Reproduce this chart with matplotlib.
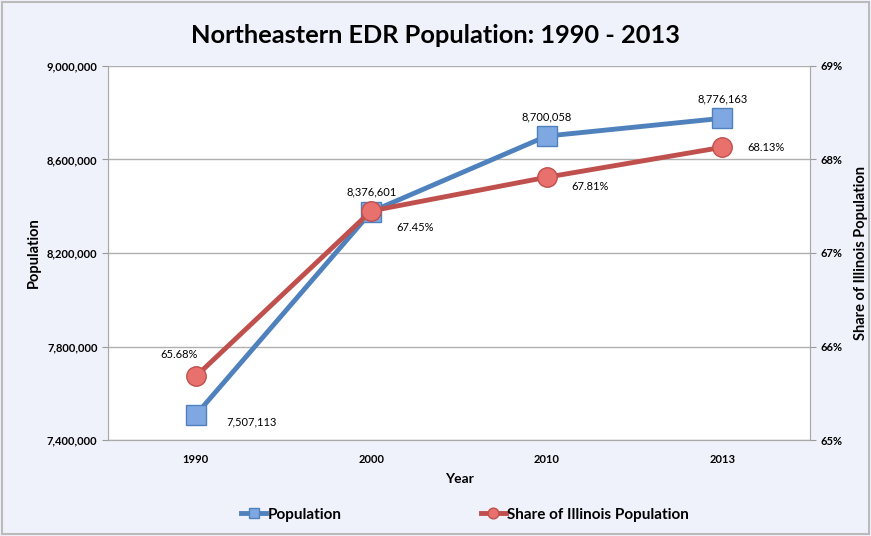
import numpy as np
from matplotlib import pyplot as plt
from matplotlib.ticker import FuncFormatter

years = ['1990', '2000', '2010', '2013']
population = [7507113, 8376601, 8700058, 8776163]
share = [65.68, 67.45, 67.81, 68.13]

pop_labels = ['7,507,113', '8,376,601', '8,700,058', '8,776,163']
share_labels = ['65.68%', '67.45%', '67.81%', '68.13%']

plt.rcParams['font.family'] = ['Lato', 'DejaVu Sans']

bg = '#f0f2fb'
blue = '#4f81bd'
red = '#c0504d'

fig = plt.figure(figsize=(8.71, 5.36), dpi=100, facecolor=bg)
ax = fig.add_axes([0.124, 0.179, 0.806, 0.698])
ax.set_facecolor('white')
ax2 = ax.twinx()

x = np.arange(len(years))
l1, = ax.plot(x, population, color=blue, lw=3.5, marker='s', ms=14,
              mfc='#7fa8e2', mec='#4f81bd', mew=1, label='Population', zorder=3)
l2, = ax2.plot(x, share, color=red, lw=3.5, marker='o', ms=14,
               mfc='#e8716d', mec='#c0504d', mew=1, label='Share of Illinois Population', zorder=3)

ax.set_xlim(-0.5, 3.5)
ax.set_ylim(7400000, 9000000)
ax.set_yticks(np.arange(7400000, 9000001, 400000))
ax.yaxis.set_major_formatter(FuncFormatter(lambda v, p: '{:,.0f}'.format(v)))
ax2.set_ylim(65, 69)
ax2.set_yticks([65, 66, 67, 68, 69])
ax2.yaxis.set_major_formatter(FuncFormatter(lambda v, p: '%d%%' % v))

ax.grid(True, axis='y', color='#b0b0b0', lw=1)
ax.set_axisbelow(True)
ax.set_xticks(x)
ax.set_xticklabels(years, fontsize=8, fontweight='bold')
ax.tick_params(axis='x', length=0, pad=10)
ax.tick_params(axis='y', labelsize=8, length=4, color='#999999', direction='out')
ax2.tick_params(axis='y', labelsize=8, length=4, color='#999999', direction='out')
for t in ax.get_yticklabels() + ax2.get_yticklabels():
    t.set_fontweight('bold')
for a in (ax, ax2):
    for s in a.spines.values():
        s.set_color('#aaaaaa')
    a.spines['top'].set_visible(False)

ax.set_xlabel('Year', fontsize=10, fontweight='bold', labelpad=6)
ax.set_ylabel('Population', fontsize=10.5, fontweight='bold', labelpad=4)
ax2.set_ylabel('Share of Illinois Population', fontsize=10.5, fontweight='bold', labelpad=8)

# data labels
pop_off = [(22, -5, 'left'), (0, 14, 'center'), (0, 14, 'center'), (0, 14, 'center')]
for i in range(len(years)):
    dx, dy, ha = pop_off[i]
    ax.annotate(pop_labels[i], (x[i], population[i]), xytext=(dx, dy),
                textcoords='offset points', ha=ha, va='center', fontsize=8)
share_off = [(-12, 16, 'center'), (18, -12, 'left'), (18, -7, 'left'), (18, 0, 'left')]
for i in range(len(years)):
    dx, dy, ha = share_off[i]
    ax2.annotate(share_labels[i], (x[i], share[i]), xytext=(dx, dy),
                 textcoords='offset points', ha=ha, va='center', fontsize=8)

fig.suptitle('Northeastern EDR Population: 1990 - 2013', fontsize=18.3, fontweight='bold', y=0.955)
fig.legend([l1, l2], ['Population', 'Share of Illinois Population'], loc='center',
           bbox_to_anchor=(0.534, 0.04), ncol=2, frameon=False,
           prop={'weight': 'bold', 'size': 11}, columnspacing=9.15, handlelength=1.6,
           handletextpad=0.1, markerscale=0.55)

fig.patches.append(plt.Rectangle((0.002, 0.004), 0.996, 0.992, transform=fig.transFigure,
                                 fill=False, edgecolor='#bbbbbb', lw=1.5))
fig.savefig('out.png', dpi=100, facecolor=bg)
